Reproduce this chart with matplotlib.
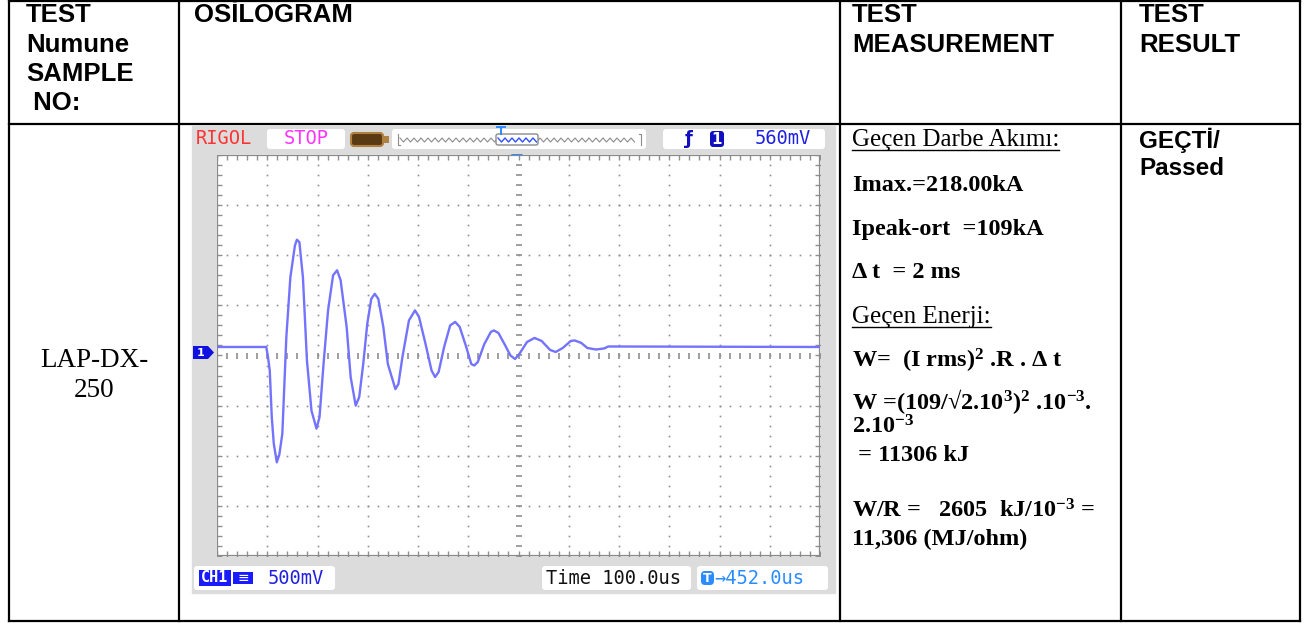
import numpy as np
import matplotlib
matplotlib.use("Agg")
import matplotlib.pyplot as plt
from matplotlib.patches import Rectangle, FancyBboxPatch, Polygon

plt.rcParams['font.family'] = ['Liberation Sans', 'DejaVu Sans']
plt.rcParams['mathtext.fontset'] = 'custom'
plt.rcParams['mathtext.rm'] = 'Liberation Serif'
plt.rcParams['mathtext.bf'] = 'Liberation Serif:bold'
plt.rcParams['mathtext.default'] = 'bf'

# --- veriler ---
header_first = ["TEST", "Numune", "SAMPLE", " NO:"]
header_osc = "OSİLOGRAM"
header_meas = ["TEST", "MEASUREMENT"]
header_result = ["TEST", "RESULT"]
sample_no = ["LAP-DX-", "250"]
result_lines = ["GEÇTİ/", "Passed"]

meas_lines = [
    "Geçen Darbe Akımı:",
    "Imax.=218.00kA",
    "Ipeak-ort  =109kA",
    "Δ t  = 2 ms",
    "Geçen Enerji:",
    r"W=  (I rms)$^{2}$ .R . Δ t",
    r"W =(109/√2.10$^{3}$)$^{2}$ .10$^{-3}$.",
    r"2.10$^{-3}$",
    " = 11306 kJ",
    r"W/R =   2605  kJ/10$^{-3}$ =",
    "11,306 (MJ/ohm)",
]
meas_bold = [False, True, True, True, False, True, True, True, True, True, True]

# osiloskop izi (yatay / dikey bölme cinsinden)
trace_t = [0.00, 0.98, 1.01, 1.05, 1.09, 1.13, 1.19, 1.24, 1.30, 1.38, 1.46, 1.55, 1.59,
           1.64, 1.71, 1.79, 1.88, 1.98, 2.04, 2.12, 2.21, 2.31, 2.39, 2.46, 2.58, 2.66,
           2.76, 2.83, 2.91, 2.99, 3.07, 3.14, 3.21, 3.31, 3.40, 3.55, 3.61, 3.69, 3.82,
           3.94, 4.02, 4.15, 4.27, 4.34, 4.41, 4.52, 4.64, 4.74, 4.83, 4.96, 5.06, 5.12,
           5.19, 5.32, 5.45, 5.51, 5.60, 5.72, 5.84, 5.93, 6.01, 6.17, 6.32, 6.46, 6.63,
           6.74, 6.88, 7.04, 7.12, 7.25, 7.37, 7.54, 7.70, 7.79, 12.00]
trace_v = [0.17, 0.17, 0.00, -0.30, -1.23, -1.76, -2.13, -1.98, -1.56, 0.37, 1.56, 2.19, 2.31,
           2.26, 1.56, -0.10, -1.10, -1.46, -1.23, -0.17, 0.90, 1.60, 1.70, 1.50, 0.57, -0.43,
           -1.00, -0.83, -0.17, 0.63, 1.13, 1.23, 1.13, 0.57, -0.17, -0.67, -0.57, -0.03, 0.70,
           0.90, 0.77, 0.23, -0.30, -0.43, -0.33, 0.17, 0.60, 0.67, 0.57, 0.17, -0.17, -0.20,
           -0.13, 0.23, 0.47, 0.50, 0.45, 0.23, 0.00, -0.07, 0.02, 0.27, 0.35, 0.29, 0.11,
           0.07, 0.15, 0.29, 0.30, 0.25, 0.15, 0.12, 0.14, 0.18, 0.17]

scope_brand = "RIGOL"
scope_state = "STOP"
trig_level = "560mV"
ch1_scale = "500mV"
time_base = "Time 100.0us"
trig_offset = "→452.0us"

# --- figür ---
W, H = 1308, 623
fig = plt.figure(figsize=(W / 100, H / 100), dpi=100)
ax = fig.add_axes([0, 0, 1, 1])
ax.set_xlim(0, W)
ax.set_ylim(H, 0)
ax.axis('off')

# tablo çizgileri
col_x = [9, 179, 840, 1121, 1300]
row_y = [1, 124, 621]
for y in row_y:
    ax.plot([col_x[0], col_x[-1]], [y, y], color='black', lw=1.6, solid_capstyle='projecting')
for x in col_x:
    ax.plot([x, x], [row_y[0], row_y[-1]], color='black', lw=1.6, solid_capstyle='projecting')

hdr = dict(fontsize=18.5, fontweight='bold', va='baseline', ha='left', family='Liberation Sans')
for i, s in enumerate(header_first):
    ax.text(26, 22 + 29.5 * i, s, **hdr)
ax.text(194, 22, header_osc, **hdr)
for i, s in enumerate(header_meas):
    ax.text(852, 22 + 29.5 * i, s, **hdr)
for i, s in enumerate(header_result):
    ax.text(1139, 22 + 29.5 * i, s, **hdr)
for i, s in enumerate(result_lines):
    ax.text(1139, 148 + 27 * i, s, fontsize=17.5, fontweight='bold', va='baseline', ha='left',
            family='Liberation Sans')
for i, s in enumerate(sample_no):
    ax.text(94, 367 + 30 * i, s, fontsize=19.5, va='baseline', ha='center', family='Liberation Serif')

# ölçüm metinleri
meas_y = [146, 191, 235, 278, 323, 368, 409, 434, 461, 518, 545]
fig.canvas.draw()
rend = fig.canvas.get_renderer()
for s, b, y in zip(meas_lines, meas_bold, meas_y):
    t = ax.text(852, y, s, fontsize=17.5 if b else 18, fontweight='bold' if b else 'normal',
                va='baseline', ha='left', family='Liberation Serif')
    if not b:
        bb = t.get_window_extent(rend)
        ax.plot([852, 852 + bb.width], [y + 4, y + 4], color='black', lw=1.0)

# --- osiloskop ekranı ---
ax.add_patch(Rectangle((192, 126), 643, 467, color='#dcdcdc', zorder=1))
mono = dict(family='DejaVu Sans Mono', fontsize=13.5, va='center', zorder=5)


def rbox(x0, y0, w, h, fc='white'):
    ax.add_patch(FancyBboxPatch((x0, y0), w, h, boxstyle='round,pad=0,rounding_size=3',
                                fc=fc, ec='none', zorder=3))


# üst çubuk
ax.text(196, 139, scope_brand, color='#ff3333', ha='left', **mono)
rbox(267, 129, 78, 20)
ax.text(306, 139, scope_state, color='#ff33ff', ha='center', **mono)
ax.add_patch(FancyBboxPatch((351, 133), 32, 13, boxstyle='round,pad=0,rounding_size=3',
                            fc='#5a3a12', ec='#b08040', lw=1.5, zorder=3))
ax.add_patch(Rectangle((384, 136), 5, 7, fc='#b08040', ec='none', zorder=3))
rbox(392, 129, 254, 20)
zz_x = np.arange(400, 637, 3.5)
zz_y = 140 + np.where(np.arange(len(zz_x)) % 2 == 0, -2, 2)
ax.plot(zz_x, zz_y, color='#8c8c8c', lw=0.8, zorder=4)
ax.plot([398, 398, 400], [134, 145, 145], color='#8c8c8c', lw=0.8, zorder=4)
ax.plot([639, 641, 641], [134, 134, 145], color='#8c8c8c', lw=0.8, zorder=4)
ax.add_patch(FancyBboxPatch((496, 134), 42, 11, boxstyle='round,pad=0,rounding_size=2',
                            fc='white', ec='#8c8c8c', lw=1.0, zorder=5))
sel = (zz_x > 497) & (zz_x < 537)
ax.plot(zz_x[sel], zz_y[sel], color='#3050ff', lw=1.0, zorder=6)
ax.plot([497, 505], [127, 127], color='#2a8cff', lw=1.4, zorder=6)
ax.plot([501, 501], [127, 134], color='#2a8cff', lw=1.4, zorder=6)
rbox(663, 129, 162, 20)
ax.text(689, 139, "ƒ", color='#1010c0', ha='center', fontsize=13, fontweight='bold',
        va='center', zorder=5, family='DejaVu Sans')
ax.add_patch(FancyBboxPatch((710, 131), 14, 16, boxstyle='round,pad=0,rounding_size=3',
                            fc='#1010c0', ec='none', zorder=5))
ax.text(717, 139, "1", color='white', ha='center', fontsize=11, fontweight='bold',
        va='center', zorder=6, family='DejaVu Sans')
ax.text(811, 139, trig_level, color='#2020e0', ha='right', **mono)

# alt çubuk
rbox(194, 566, 141, 24)
ax.add_patch(Rectangle((199, 570), 32, 16, fc='#1a1aff', ec='none', zorder=4))
ax.text(215, 578, "CH1", color='white', ha='center', family='DejaVu Sans Mono', fontsize=11,
        fontweight='bold', va='center', zorder=5)
ax.add_patch(Rectangle((233, 572), 20, 12, fc='#1a1aff', ec='none', zorder=4))
ax.text(243, 578, "≡", color='white', ha='center', fontsize=10, va='center', zorder=5,
        family='DejaVu Sans')
ax.text(268, 578, ch1_scale, color='#2020e0', ha='left', **mono)
rbox(542, 566, 149, 24)
ax.text(546, 578, time_base, color='#111111', ha='left', **mono)
rbox(697, 566, 131, 24)
ax.add_patch(FancyBboxPatch((701, 571), 13, 14, boxstyle='round,pad=0,rounding_size=4',
                            fc='#2a8cff', ec='none', zorder=4))
ax.text(707.5, 578, "T", color='white', ha='center', fontsize=9, fontweight='bold',
        va='center', zorder=5, family='DejaVu Sans')
ax.text(714, 578, trig_offset, color='#2a8cff', ha='left', **mono)

# ızgara alanı
gx0, gx1, gy0, gy1 = 217, 820, 155, 556
sax = fig.add_axes([gx0 / W, 1 - gy1 / H, (gx1 - gx0) / W, (gy1 - gy0) / H])
sax.set_xlim(0, 12)
sax.set_ylim(-4, 4)
sax.axis('off')
sax.add_patch(Rectangle((0, -4), 12, 8, fc='white', ec='none', zorder=0))
grid_c = '#8f8f8f'
ys = np.arange(-4, 4.001, 0.2)
xs = np.arange(0, 12.001, 0.2)
for g in range(1, 12):
    if g == 6:
        continue
    sax.plot(np.full_like(ys, g), ys, ls='none', marker='s', ms=1.2, color=grid_c, mew=0)
for g in range(-3, 4):
    if g == 0:
        continue
    sax.plot(xs, np.full_like(xs, g), ls='none', marker='s', ms=1.2, color=grid_c, mew=0)
sax.plot(np.full_like(ys, 6), ys, ls='none', marker='_', ms=5, mew=1.2, color=grid_c)
sax.plot(xs, np.zeros_like(xs), ls='none', marker='|', ms=5, mew=1.2, color=grid_c)
for xe in (0, 12):
    sax.plot(np.full_like(ys, xe), ys, ls='none', marker='_', ms=7, mew=1.0, color=grid_c)
for ye in (-4, 4):
    sax.plot(xs, np.full_like(xs, ye), ls='none', marker='|', ms=7, mew=1.0, color=grid_c)
sax.add_patch(Rectangle((0, -4), 12, 8, fill=False, ec='#8a8a8a', lw=1.6, zorder=3))

sax.plot(trace_t, trace_v, color='#7373ff', lw=1.7, zorder=4)

# tetik işaretleri
ax.add_patch(Polygon([[285, 163], [299, 163], [299, 178], [292, 184], [285, 178]],
                     closed=True, fc='#2a8cff', ec='none', zorder=6))
ax.text(292, 171, "T", color='white', ha='center', va='center', fontsize=9,
        fontweight='bold', zorder=7, family='DejaVu Sans')
ax.add_patch(Polygon([[511, 154], [523, 154], [517, 162]], closed=True,
                     fc='#2a8cff', ec='none', zorder=6))
ax.add_patch(Polygon([[193, 346], [208, 346], [214, 352.5], [208, 359], [193, 359]],
                     closed=True, fc='#1010e0', ec='none', zorder=6))
ax.text(201, 352.5, "1", color='white', ha='center', va='center', fontsize=8,
        fontweight='bold', zorder=7, family='DejaVu Sans')

fig.savefig("out.png", dpi=100)
